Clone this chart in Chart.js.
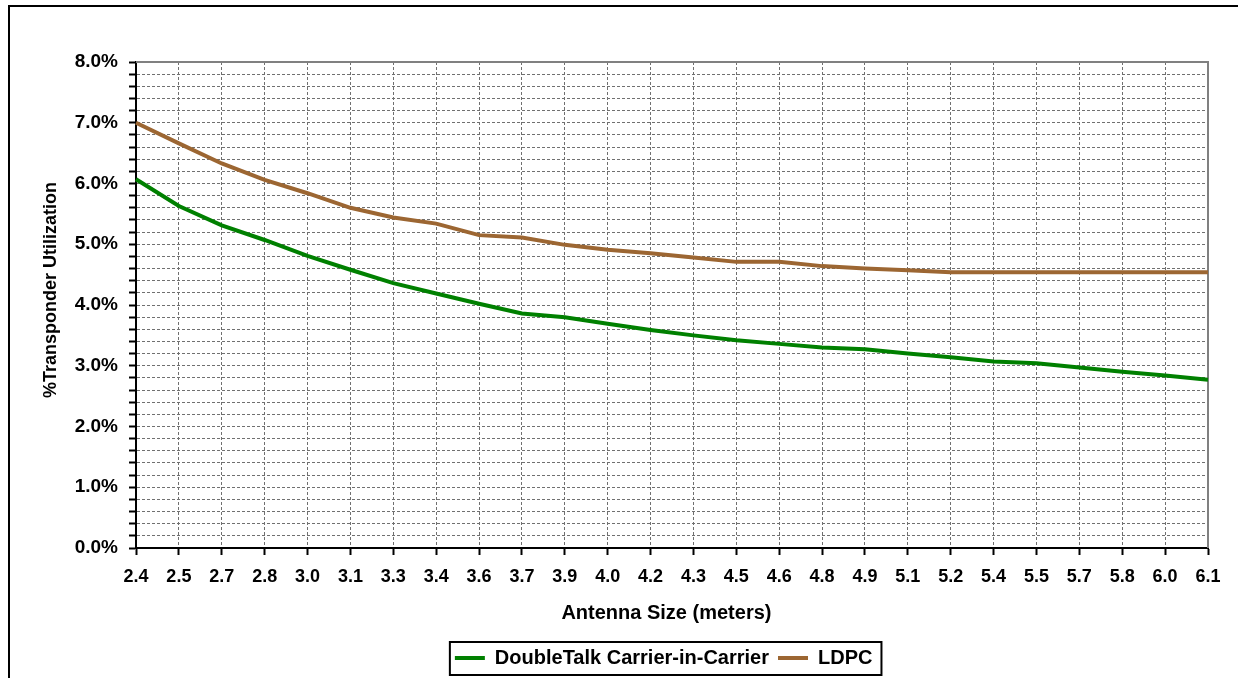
<!DOCTYPE html>
<html>
<head>
<meta charset="utf-8">
<title>Transponder Utilization</title>
<script src="https://cdn.jsdelivr.net/npm/chart.js@4.4.1/dist/chart.umd.min.js"></script>
<style>
html, body { margin: 0; padding: 0; background: #fff; overflow: hidden; }
#wrap { position: relative; width: 1238px; height: 678px; overflow: hidden; }
#wrap canvas { position: absolute; left: 0; top: 0; }
#frame { position: absolute; left: 8px; top: 5px; width: 1300px; height: 800px;
         border-top: 2px solid #000; border-left: 2px solid #000; pointer-events: none; }
</style>
</head>
<body>
<div id="wrap">
  <canvas id="utilChart" width="1238" height="678"></canvas>
  <div id="frame"></div>
</div>
<script>
// antenna sizes (meters) along the x axis
var antennaSizes = ['2.4', '2.5', '2.7', '2.8', '3.0', '3.1', '3.3', '3.4', '3.6', '3.7',
                    '3.9', '4.0', '4.2', '4.3', '4.5', '4.6', '4.8', '4.9', '5.1', '5.2',
                    '5.4', '5.5', '5.7', '5.8', '6.0', '6.1'];

// % transponder utilization
var doubleTalk = [6.07, 5.63, 5.31, 5.07, 4.81, 4.58, 4.36, 4.19, 4.02, 3.86,
                  3.80, 3.69, 3.59, 3.50, 3.42, 3.36, 3.30, 3.27, 3.20, 3.14,
                  3.07, 3.04, 2.97, 2.90, 2.84, 2.77];
var ldpc = [7.00, 6.66, 6.33, 6.06, 5.84, 5.60, 5.44, 5.34, 5.15, 5.11,
            4.99, 4.91, 4.85, 4.78, 4.71, 4.71, 4.64, 4.60, 4.57, 4.54,
            4.54, 4.54, 4.54, 4.54, 4.54, 4.54];

var seriesNames = ['DoubleTalk Carrier-in-Carrier', 'LDPC'];
var seriesColors = ['#008000', '#9c6632'];

Chart.defaults.font.family = '"Liberation Sans", Arial, sans-serif';
Chart.defaults.font.weight = 'bold';
Chart.defaults.color = '#000';

var legendFont = { size: 20, weight: 'bold' };

// gray frame on top and right of the plot
var plotFrame = {
    id: 'plotFrame',
    beforeDatasetsDraw: function(chart) {
        var a = chart.chartArea, c = chart.ctx;
        c.save();
        c.strokeStyle = '#808080';
        c.lineWidth = 2;
        c.beginPath();
        c.moveTo(a.left, a.top);
        c.lineTo(a.right, a.top);
        c.lineTo(a.right, a.bottom);
        c.stroke();
        c.restore();
    }
};

// black box around the legend items (text is padded at the end to pull the block left)
var legendBox = {
    id: 'legendBox',
    afterDraw: function(chart) {
        var lg = chart.legend;
        if (!lg || !lg.legendHitBoxes || !lg.legendHitBoxes.length) return;
        var hb = lg.legendHitBoxes;
        var items = lg.legendItems;
        var first = hb[0], last = hb[hb.length - 1];
        var c = chart.ctx;
        c.save();
        c.font = Chart.helpers.toFont(legendFont).string;
        var lastText = items[items.length - 1].text.replace(/\s+$/, '');
        var boxW = lg.options.labels.pointStyleWidth;
        var x1 = first.left - 5;
        var x2 = last.left + boxW + legendFont.size / 2 + c.measureText(lastText).width + 9;
        var cy = first.top + first.height / 2;
        c.strokeStyle = '#000';
        c.lineWidth = 2;
        c.strokeRect(x1, cy - 16, x2 - x1, 33);
        c.restore();
    }
};

var gridOpts = {
    color: '#707070',
    lineWidth: 1,
    tickColor: '#000',
    tickWidth: 2,
    tickLength: 7,
    tickBorderDash: []
};

var ctx = document.getElementById('utilChart');

var utilChart = new Chart(ctx, {
    type: 'line',
    data: {
        labels: antennaSizes,
        datasets: [
            {
                label: seriesNames[0],
                data: doubleTalk,
                borderColor: seriesColors[0],
                backgroundColor: seriesColors[0],
                borderWidth: 4,
                pointRadius: 0,
                tension: 0,
                fill: false
            },
            {
                label: seriesNames[1] + '   ',
                data: ldpc,
                borderColor: seriesColors[1],
                backgroundColor: seriesColors[1],
                borderWidth: 4,
                pointRadius: 0,
                tension: 0,
                fill: false
            }
        ]
    },
    options: {
        responsive: false,
        animation: false,
        events: [],
        layout: {
            padding: { top: 62, right: 30, bottom: 0, left: 0 }
        },
        plugins: {
            tooltip: { enabled: false },
            legend: {
                position: 'bottom',
                fullSize: false,
                labels: {
                    usePointStyle: true,
                    pointStyle: 'line',
                    pointStyleWidth: 30,
                    padding: 9,
                    font: legendFont,
                    color: '#000'
                }
            }
        },
        scales: {
            x: {
                afterFit: function(scale) { scale.height = 91; },
                grid: gridOpts,
                border: { display: true, color: '#000', width: 2, dash: [3, 2] },
                ticks: {
                    autoSkip: false,
                    maxRotation: 0,
                    padding: 11,
                    color: '#000',
                    font: { size: 18, weight: 'bold' }
                },
                title: {
                    display: true,
                    text: 'Antenna Size (meters)  ',
                    color: '#000',
                    font: { size: 20, weight: 'bold' },
                    padding: { top: 0, bottom: 14 }
                }
            },
            y: {
                min: 0,
                max: 8,
                afterFit: function(scale) { scale.width = 136; },
                grid: gridOpts,
                border: { display: true, color: '#000', width: 2, dash: [3, 2] },
                ticks: {
                    stepSize: 0.2,
                    maxTicksLimit: 60,
                    autoSkip: false,
                    padding: 11,
                    color: '#000',
                    font: { size: 19, weight: 'bold' },
                    callback: function(v) {
                        if (Math.abs(v - Math.round(v)) > 1e-6) return '';
                        return Math.round(v).toFixed(1) + '%';
                    }
                },
                title: {
                    display: true,
                    text: '      %Transponder Utilization',
                    color: '#000',
                    font: { size: 18, weight: 'bold' },
                    padding: { top: 40, bottom: 0 }
                }
            }
        }
    },
    plugins: [plotFrame, legendBox]
});
</script>
</body>
</html>
